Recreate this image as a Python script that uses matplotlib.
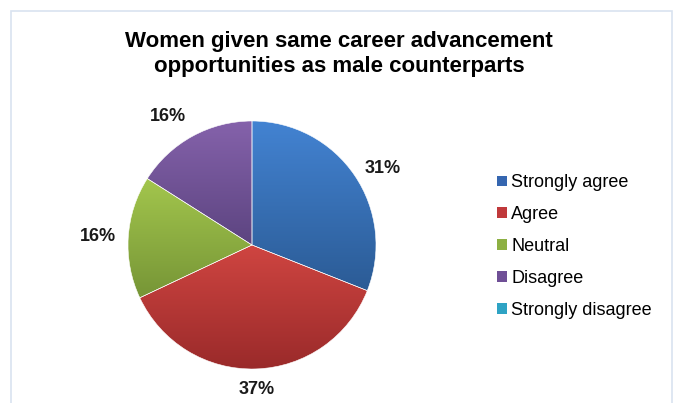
import matplotlib.pyplot as plt
import numpy as np
from matplotlib.colors import LinearSegmentedColormap
from matplotlib.patches import Rectangle

plt.rcParams['font.family'] = ['Liberation Sans', 'DejaVu Sans']

# Datos
categorias = ['Strongly agree', 'Agree', 'Neutral', 'Disagree', 'Strongly disagree']
valores = [31, 37, 16, 16, 0]
color_base = ['#3566b0', '#c0393b', '#8db043', '#6f4f96', '#2ea3c4']
color_arriba = ['#4383d2', '#cf4541', '#a3c64d', '#8562ab', '#36b6d6']
color_abajo = ['#2b5b95', '#9a2a2a', '#769536', '#5c4480', '#23819b']
titulo = 'Women given same career advancement\nopportunities as male counterparts'

W, H = 678, 403
fig = plt.figure(figsize=(W / 100, H / 100), dpi=100)
ax = fig.add_axes([0, 0, 1, 1])

cx, cy, r = 252, H - 245, 124


def etiqueta(pct):
    return f'{pct:.0f}%' if pct >= 0.5 else ''


wedges, _, textos = ax.pie(valores, colors=color_base, startangle=90,
                           counterclock=False, center=(cx, cy), radius=r,
                           autopct=etiqueta, pctdistance=1.1,
                           wedgeprops=dict(edgecolor='white', linewidth=0.4),
                           textprops=dict(fontsize=13, fontweight='bold', color='#1a1a1a'),
                           frame=True)
ax.set_xlim(0, W)
ax.set_ylim(0, H)
ax.set_aspect('equal')
ax.axis('off')

# marco del grafico
ax.add_patch(Rectangle((11, -5), 661, H - 11 + 5, fill=False,
                       edgecolor='#d9e3f0', linewidth=1.2))

# relleno degradado por sector
for w, c1, c2 in zip(wedges, color_arriba, color_abajo):
    if w.theta1 == w.theta2:
        continue
    ext = w.get_path().get_extents()
    cmap = LinearSegmentedColormap.from_list('g', [c2, c1])
    grad = np.linspace(0, 1, 256).reshape(-1, 1)
    im = ax.imshow(grad, cmap=cmap, origin='lower', aspect='auto',
                   extent=[ext.x0, ext.x1, ext.y0, ext.y1], zorder=w.get_zorder())
    im.set_clip_path(w)
    w.set_facecolor('none')
    w.set_zorder(w.get_zorder() + 0.1)

# alinear etiquetas hacia fuera
for w, t in zip(wedges, textos):
    ang = np.deg2rad((w.theta1 + w.theta2) / 2)
    c, s = np.cos(ang), np.sin(ang)
    t.set_ha('left' if c > 0.3 else ('right' if c < -0.3 else 'center'))
    t.set_va('bottom' if s > 0.7 else ('top' if s < -0.3 else 'center'))

ax.text(W / 2, H - 54, titulo, ha='center', va='center', fontsize=16,
        fontweight='bold', linespacing=1.22)

handles = [Rectangle((0, 0), 1, 1, facecolor=c) for c in color_base]
fig.legend(handles, categorias, loc='center left',
           bbox_to_anchor=(497 / W, 1 - 246.5 / H), bbox_transform=fig.transFigure,
           frameon=False, fontsize=13, handlelength=0.55, handleheight=0.55,
           handletextpad=0.25, labelspacing=0.82, borderpad=0, borderaxespad=0)

fig.savefig('out.png', dpi=100)
